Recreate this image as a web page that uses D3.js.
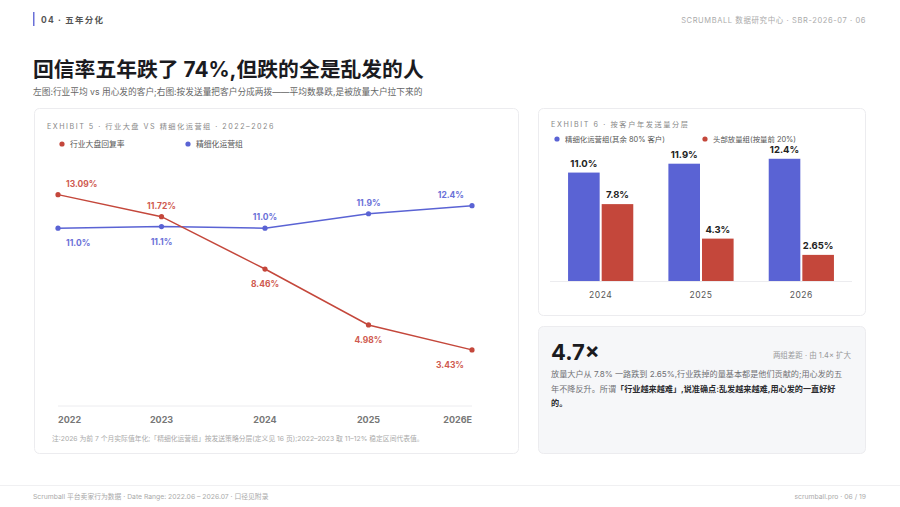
<!DOCTYPE html>
<html>
<head>
<meta charset="utf-8">
<script src="https://cdn.jsdelivr.net/npm/d3@7"></script>
<style>
  html, body { margin: 0; padding: 0; background: #fff; }
  svg { display: block; font-family: "Inter", "Noto Sans CJK SC", sans-serif; }
</style>
</head>
<body>
<svg id="page" width="900" height="507"></svg>
<script>
// chart data
var years = ["2022", "2023", "2024", "2025", "2026E"];
var industryRate = [13.09, 11.72, 8.46, 4.98, 3.43];   // 行业大盘回复率
var refinedRate = [11.0, 11.1, 11.0, 11.9, 12.4];      // 精细化运营组
var refinedLabels = ["11.0%", "11.1%", "11.0%", "11.9%", "12.4%"];
var industryLabels = ["13.09%", "11.72%", "8.46%", "4.98%", "3.43%"];

var barYears = ["2024", "2025", "2026"];
var barRefined = [11.0, 11.9, 12.4];
var barHeavy = [7.8, 4.3, 2.65];
var barRefinedLabels = ["11.0%", "11.9%", "12.4%"];
var barHeavyLabels = ["7.8%", "4.3%", "2.65%"];

var RED = "#c4473b", BLUE = "#5a63d4";
var RED_TXT = "#cf5a4f", BLUE_TXT = "#6a70d8";

var svg = d3.select("#page");

// ---- header ----
svg.append("rect").attr("x", 33).attr("y", 12).attr("width", 1.5).attr("height", 14).attr("fill", "#6a70d8");
svg.append("text").attr("x", 41).attr("y", 22.5).attr("font-size", 8.5).attr("font-weight", 700)
  .attr("fill", "#555").attr("letter-spacing", 1.2).text("04 · 五年分化");
svg.append("text").attr("x", 866).attr("y", 22.5).attr("text-anchor", "end").attr("font-size", 7.5)
  .attr("fill", "#aaa").attr("letter-spacing", 0.6).text("SCRUMBALL 数据研究中心 · SBR-2026-07 · 06");

svg.append("text").attr("x", 33).attr("y", 77).attr("font-size", 20.8).attr("font-weight", 700)
  .attr("fill", "#1b1b1f").text("回信率五年跌了 74%,但跌的全是乱发的人");
svg.append("text").attr("x", 33).attr("y", 95).attr("font-size", 8.7).attr("fill", "#666")
  .text("左图:行业平均 vs 用心发的客户;右图:按发送量把客户分成两拨——平均数暴跌,是被放量大户拉下来的");

// ---- cards ----
function card(x, y, w, h, fill) {
  svg.append("rect").attr("x", x).attr("y", y).attr("width", w).attr("height", h).attr("rx", 5)
    .attr("fill", fill).attr("stroke", "#ececef").attr("stroke-width", 1);
}
card(34.5, 108.5, 484, 345, "#fff");
card(538.5, 108.5, 327, 207, "#fff");
card(538.5, 326.5, 327, 127, "#f6f7f9");

// ---- left: line chart ----
var left = svg.append("g");
left.append("text").attr("x", 47).attr("y", 129).attr("font-size", 7.2).attr("fill", "#888")
  .attr("letter-spacing", 1.5).text("EXHIBIT 5 · 行业大盘 VS 精细化运营组 · 2022–2026");

function legendItem(g, x, y, color, label, size) {
  g.append("circle").attr("cx", x).attr("cy", y).attr("r", 2.6).attr("fill", color);
  g.append("text").attr("x", x + 8).attr("y", y + 3).attr("font-size", size).attr("fill", "#555").text(label);
}
legendItem(left, 62, 144, RED, "行业大盘回复率", 7.8);
legendItem(left, 188, 144, BLUE, "精细化运营组", 7.8);

var x = d3.scalePoint().domain(years).range([58, 472]);
var y = d3.scaleLinear().domain([0, 14]).range([405, 180]);

left.append("line").attr("x1", 58).attr("x2", 472).attr("y1", 406).attr("y2", 406)
  .attr("stroke", "#ececef").attr("stroke-width", 1);

left.selectAll(".xl").data(years).enter().append("text")
  .attr("x", function(d) { return x(d); })
  .attr("y", 423)
  .attr("text-anchor", function(d, i) { return i === 0 ? "start" : (i === years.length - 1 ? "end" : "middle"); })
  .attr("font-size", 9).attr("font-weight", 700).attr("fill", "#777")
  .text(function(d) { return d; });

var line = d3.line().x(function(d, i) { return x(years[i]); }).y(function(d) { return y(d); });

function drawSeries(vals, other, labels, color, txtColor) {
  left.append("path").datum(vals).attr("d", line).attr("fill", "none")
    .attr("stroke", color).attr("stroke-width", 1.5);
  left.selectAll(null).data(vals).enter().append("circle")
    .attr("cx", function(d, i) { return x(years[i]); })
    .attr("cy", function(d) { return y(d); })
    .attr("r", 2.6).attr("fill", color);
  // label above when this series sits higher than the other one
  left.selectAll(null).data(vals).enter().append("text")
    .attr("x", function(d, i) {
      if (i === 0) return x(years[i]) + 8;
      if (i === vals.length - 1) return x(years[i]) - 8;
      return x(years[i]);
    })
    .attr("y", function(d, i) { return d >= other[i] ? y(d) - 8 : y(d) + 18; })
    .attr("text-anchor", function(d, i) { return i === 0 ? "start" : (i === vals.length - 1 ? "end" : "middle"); })
    .attr("font-size", 8.5).attr("font-weight", 700).attr("fill", txtColor)
    .text(function(d, i) { return labels[i]; });
}
drawSeries(refinedRate, industryRate, refinedLabels, BLUE, BLUE_TXT);
drawSeries(industryRate, refinedRate, industryLabels, RED, RED_TXT);

left.append("text").attr("x", 52).attr("y", 441).attr("font-size", 6.8).attr("fill", "#aaa")
  .text("注:2026 为前 7 个月实际值年化;「精细化运营组」按发送策略分层(定义见 16 页);2022–2023 取 11–12% 稳定区间代表值。");

// ---- right: grouped bars ----
var right = svg.append("g");
right.append("text").attr("x", 551).attr("y", 127).attr("font-size", 7.2).attr("fill", "#888")
  .attr("letter-spacing", 1.6).text("EXHIBIT 6 · 按客户年发送量分层");
legendItem(right, 557, 139, BLUE, "精细化运营组(其余 80% 客户)", 7.4);
legendItem(right, 705, 139, RED, "头部放量组(按量前 20%)", 7.4);

var x0 = d3.scaleBand().domain(barYears).range([550, 852]).paddingInner(0.35).paddingOuter(0.18);
var x1 = d3.scaleBand().domain(["refined", "heavy"]).range([0, x0.bandwidth()]).paddingInner(0.06);
var yb = d3.scaleLinear().domain([0, 14]).range([281, 143]);

right.append("line").attr("x1", 550).attr("x2", 852).attr("y1", 281.5).attr("y2", 281.5)
  .attr("stroke", "#ececef");

function drawBars(vals, labels, key, color) {
  right.selectAll(null).data(vals).enter().append("rect")
    .attr("x", function(d, i) { return x0(barYears[i]) + x1(key); })
    .attr("y", function(d) { return yb(d); })
    .attr("width", x1.bandwidth())
    .attr("height", function(d) { return yb(0) - yb(d); })
    .attr("fill", color);
  right.selectAll(null).data(vals).enter().append("text")
    .attr("x", function(d, i) { return x0(barYears[i]) + x1(key) + x1.bandwidth() / 2; })
    .attr("y", function(d) { return yb(d) - 6; })
    .attr("text-anchor", "middle").attr("font-size", 9.5).attr("font-weight", 700).attr("fill", "#222")
    .text(function(d, i) { return labels[i]; });
}
drawBars(barRefined, barRefinedLabels, "refined", BLUE);
drawBars(barHeavy, barHeavyLabels, "heavy", RED);

right.selectAll(".bx").data(barYears).enter().append("text")
  .attr("x", function(d) { return x0(d) + x0.bandwidth() / 2; })
  .attr("y", 298).attr("text-anchor", "middle").attr("font-size", 8.5).attr("fill", "#555")
  .attr("letter-spacing", 0.5)
  .text(function(d) { return d; });

// ---- bottom-right callout ----
var note = svg.append("g");
note.append("text").attr("x", 551).attr("y", 360).attr("font-size", 22).attr("font-weight", 700)
  .attr("fill", "#1b1b1f").text("4.7×");
note.append("text").attr("x", 851).attr("y", 358).attr("text-anchor", "end").attr("font-size", 7.5)
  .attr("fill", "#999").text("两组差距 · 由 1.4× 扩大");

var para = [
  [["放量大户从 7.8% 一路跌到 2.65%,行业跌掉的量基本都是他们贡献的;用心发的五", false]],
  [["年不降反升。所谓", false], ["「行业越来越难」,说准确点:乱发越来越难,用心发的一直好好", true]],
  [["的。", true]]
];
para.forEach(function(parts, li) {
  var t = note.append("text").attr("x", 551).attr("y", 377 + li * 14.5).attr("font-size", 8.15);
  parts.forEach(function(p) {
    t.append("tspan").attr("fill", p[1] ? "#2a2a2e" : "#707074")
      .attr("font-weight", p[1] ? 700 : 400).text(p[0]);
  });
});

// ---- footer ----
svg.append("line").attr("x1", 0).attr("x2", 900).attr("y1", 485.5).attr("y2", 485.5).attr("stroke", "#f0f0f2");
svg.append("text").attr("x", 33).attr("y", 499).attr("font-size", 6.8).attr("fill", "#aaa")
  .text("Scrumball 平台卖家行为数据 · Date Range: 2022.06 – 2026.07 · 口径见附录");
svg.append("text").attr("x", 866).attr("y", 499).attr("text-anchor", "end").attr("font-size", 6.8)
  .attr("fill", "#aaa").text("scrumball.pro · 06 / 19");
</script>
</body>
</html>
